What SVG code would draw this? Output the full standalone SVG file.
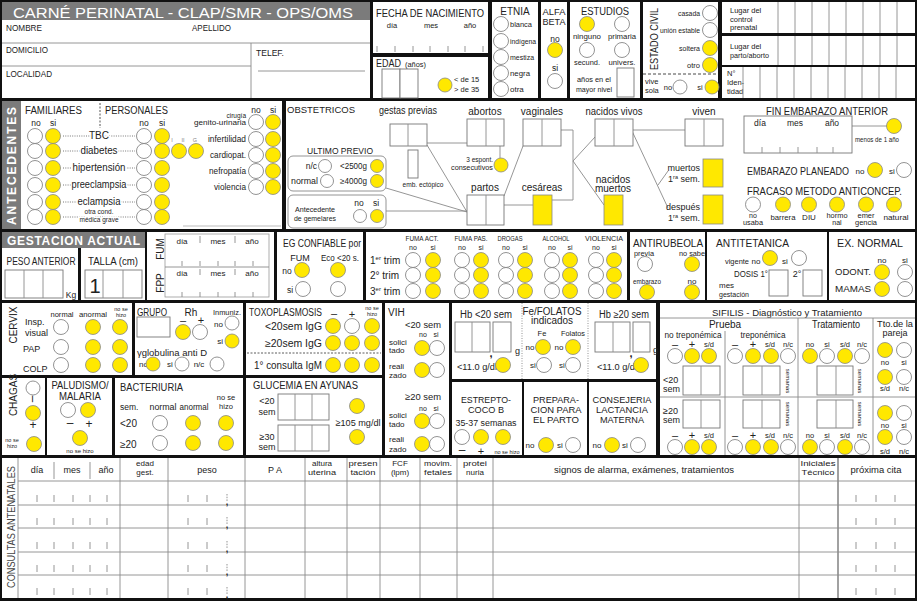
<svg xmlns="http://www.w3.org/2000/svg" width="917" height="601" viewBox="0 0 917 601">
<style>
text{font-family:"Liberation Sans Narrow","Liberation Sans",Arial,sans-serif;font-size:9px;fill:#222}
.c{text-anchor:middle}
.r{text-anchor:end}
.s{font-size:7.5px}
.xs{font-size:5.5px}
.m{font-size:10px}
.h{font-size:10.5px}
.w{fill:#fff;stroke:#777;stroke-width:0.8}
.y{fill:#ffe800;stroke:#888;stroke-width:0.8}
.p{fill:#fff}
.bx{fill:#fff;stroke:#777;stroke-width:0.9}
.yb{fill:#ffe800;stroke:#888;stroke-width:0.8}
.g{stroke:#8a8a8a;stroke-width:0.9;fill:none}
.dot{stroke:#555;stroke-width:0.8;stroke-dasharray:1 1.3;fill:none}
.halo{stroke:#fff;stroke-width:3px;paint-order:stroke}
.wt{fill:#fff;font-family:"Liberation Sans",Arial,sans-serif;font-weight:bold}
</style>
<rect width="917" height="601" fill="#111"/>

<g id="identificacion">
<rect x="2" y="2" width="368" height="96" class="p"/>
<rect x="2" y="2" width="368" height="18" fill="#7b7b7b"/>
<text x="13" y="18" style="fill:#fff;font-family:'Liberation Sans',Arial,sans-serif;font-size:15.5px" textLength="340" lengthAdjust="spacingAndGlyphs">CARNÉ PERINATAL - CLAP/SMR - OPS/OMS</text>
<text x="6" y="31" style="font-size:9.5px" textLength="36" lengthAdjust="spacingAndGlyphs">NOMBRE</text>
<text x="192" y="31" style="font-size:9.5px" textLength="39" lengthAdjust="spacingAndGlyphs">APELLIDO</text>
<line class="g" x1="2" y1="43" x2="370" y2="43"/>
<text x="6" y="53" style="font-size:9.5px" textLength="42" lengthAdjust="spacingAndGlyphs">DOMICILIO</text>
<line class="g" x1="251" y1="43" x2="251" y2="98"/>
<text x="256" y="56" style="font-size:9.5px" textLength="28" lengthAdjust="spacingAndGlyphs">TELEF.</text>
<line class="g" x1="2" y1="66" x2="251" y2="66"/>
<text x="6" y="77" style="font-size:9.5px" textLength="46" lengthAdjust="spacingAndGlyphs">LOCALIDAD</text>
<line class="g" x1="258" y1="71" x2="365" y2="71"/>
</g>

<g id="fecha-nacimiento">
<rect x="373" y="2" width="115" height="51" class="p"/>
<text x="376" y="17" class="h" textLength="108" lengthAdjust="spacingAndGlyphs">FECHA DE NACIMIENTO</text>
<text x="392" y="28" class="c s">día</text>
<text x="431" y="28" class="c s">mes</text>
<text x="470" y="28" class="c s">año</text>
<path class="g" d="M377 46V52M395 46V52M413 46V52M430 46V52M448 46V52M465 46V52M483 46V52"/>
</g>

<g id="edad">
<rect x="373" y="57" width="115" height="41" class="p"/>
<text x="376" y="67" class="m" textLength="25" lengthAdjust="spacingAndGlyphs">EDAD</text>
<text x="405" y="67" style="font-size:8px" textLength="21" lengthAdjust="spacingAndGlyphs">(años)</text>
<rect class="bx" x="382" y="69" width="18" height="29"/>
<rect class="bx" x="400" y="69" width="18" height="29"/>
<circle class="y" cx="445" cy="85" r="7"/>
<text x="454" y="82" class="s">&lt; de 15</text>
<text x="454" y="92" class="s">&gt; de 35</text>
</g>

<g id="etnia">
<rect x="492" y="2" width="46" height="96" class="p"/>
<text x="515" y="15" class="c m">ETNIA</text>
<circle class="w" cx="501" cy="24" r="7.5"/><text x="510" y="27" style="font-size:8px" textLength="22" lengthAdjust="spacingAndGlyphs">blanca</text>
<circle class="w" cx="501" cy="41" r="7.5"/><text x="510" y="44" style="font-size:8px" textLength="26" lengthAdjust="spacingAndGlyphs">indígena</text>
<circle class="w" cx="501" cy="57" r="7.5"/><text x="510" y="60" style="font-size:8px" textLength="24" lengthAdjust="spacingAndGlyphs">mestiza</text>
<circle class="w" cx="501" cy="73" r="7.5"/><text x="510" y="76" style="font-size:8px" textLength="20" lengthAdjust="spacingAndGlyphs">negra</text>
<circle class="w" cx="501" cy="89" r="7.5"/><text x="510" y="92" style="font-size:8px">otra</text>
</g>

<g id="alfabeta">
<rect x="541" y="2" width="26" height="96" class="p"/>
<text x="554" y="15" class="c" style="font-size:9.5px" textLength="23" lengthAdjust="spacingAndGlyphs">ALFA</text>
<text x="554" y="25" class="c" style="font-size:9.5px" textLength="23" lengthAdjust="spacingAndGlyphs">BETA</text>
<text x="555" y="42" class="c" style="font-size:8.5px">no</text>
<circle class="y" cx="555" cy="50" r="7.5"/>
<text x="555" y="71" class="c" style="font-size:8.5px">si</text>
<circle class="w" cx="555" cy="81" r="7.5"/>
</g>

<g id="estudios">
<rect x="570" y="2" width="70" height="96" class="p"/>
<text x="605" y="15" class="c m" textLength="48" lengthAdjust="spacingAndGlyphs">ESTUDIOS</text>
<circle class="y" cx="587" cy="24" r="7.5"/>
<circle class="w" cx="622" cy="24" r="7.5"/>
<text x="587" y="39" class="c" style="font-size:8px" textLength="28" lengthAdjust="spacingAndGlyphs">ninguno</text>
<text x="622" y="39" class="c" style="font-size:8px" textLength="28" lengthAdjust="spacingAndGlyphs">primaria</text>
<circle class="w" cx="587" cy="50" r="7.5"/>
<circle class="w" cx="622" cy="50" r="7.5"/>
<text x="587" y="65" class="c" style="font-size:8px" textLength="26" lengthAdjust="spacingAndGlyphs">secund.</text>
<text x="622" y="65" class="c" style="font-size:8px" textLength="27" lengthAdjust="spacingAndGlyphs">univers.</text>
<text x="594" y="82" class="c" style="font-size:8px" textLength="34" lengthAdjust="spacingAndGlyphs">años en el</text>
<text x="594" y="92" class="c" style="font-size:8px" textLength="36" lengthAdjust="spacingAndGlyphs">mayor nivel</text>
<rect class="bx" x="617" y="68" width="17" height="29"/>
</g>

<g id="estado-civil">
<rect x="643" y="2" width="75" height="96" class="p"/>
<text transform="translate(658,39) rotate(-90)" class="c" style="font-size:11px" textLength="62" lengthAdjust="spacingAndGlyphs">ESTADO CIVIL</text>
<text x="700" y="16" class="r s" textLength="22" lengthAdjust="spacingAndGlyphs">casada</text><circle class="w" cx="710" cy="13" r="7.5"/>
<text x="700" y="33" class="r s" textLength="40" lengthAdjust="spacingAndGlyphs">unión estable</text><circle class="w" cx="710" cy="30" r="7.5"/>
<text x="700" y="51" class="r s" textLength="21" lengthAdjust="spacingAndGlyphs">soltera</text><circle class="y" cx="710" cy="48" r="7.5"/>
<text x="700" y="68" class="r s">otro</text><circle class="y" cx="710" cy="65" r="7.5"/>
<line x1="643" y1="74" x2="718" y2="74" stroke="#333" stroke-width="0.9" stroke-dasharray="3 2"/>
<text x="645" y="84" class="s">vive</text>
<text x="645" y="93" class="s">sola</text>
<text x="668" y="90" class="c s">no</text><circle class="w" cx="680" cy="87" r="7"/>
<text x="700" y="90" class="c s">si</text><circle class="y" cx="712" cy="87" r="7"/>
</g>

<g id="lugar">
<rect x="722" y="2" width="193" height="31" class="p"/>
<rect x="722" y="36" width="193" height="29" class="p"/>
<rect x="722" y="67" width="193" height="31" class="p"/>
<text x="730" y="13" class="s">Lugar del</text>
<text x="730" y="21.5" class="s">control</text>
<text x="730" y="30" class="s">prenatal</text>
<text x="730" y="49" class="s">Lugar del</text>
<text x="730" y="58" class="s" textLength="39" lengthAdjust="spacingAndGlyphs">parto/aborto</text>
<text x="727" y="76" class="s">N°</text>
<text x="727" y="85" class="s">Iden-</text>
<text x="727" y="94" class="s">tidad</text>
<path class="g" d="M778 2V33M795 2V33M812 2V33M829 2V33M846 2V33M863 2V33M880 2V33M897 2V33M778 36V65M795 36V65M812 36V65M829 36V65M846 36V65M863 36V65M880 36V65M897 36V65M743 67V98M760 67V98M777 67V98M794 67V98M811 67V98M828 67V98M845 67V98M862 67V98M879 67V98M896 67V98"/>
</g>

<g id="antecedentes-familiares-personales">
<rect x="2" y="101" width="19" height="128" fill="#7b7b7b"/>
<text transform="translate(15.5,166) rotate(-90)" class="wt c" style="font-size:12px" textLength="118" lengthAdjust="spacing">ANTECEDENTES</text>
<rect x="21" y="101" width="261" height="128" class="p"/>
<text x="25" y="114" class="m" textLength="57" lengthAdjust="spacingAndGlyphs">FAMILIARES</text>
<line x1="100" y1="103" x2="100" y2="128" stroke="#555" stroke-width="1" stroke-dasharray="2 1.5"/>
<text x="105" y="114" class="m" textLength="63" lengthAdjust="spacingAndGlyphs">PERSONALES</text>
<text x="36" y="126" class="c" style="font-size:8.5px">no</text>
<text x="53" y="126" class="c" style="font-size:8.5px">si</text>
<text x="144" y="126" class="c" style="font-size:8.5px">no</text>
<text x="162" y="126" class="c" style="font-size:8.5px">si</text>
<path class="dot" d="M63 136H135M63 151H135M63 168H135M63 185H135M63 202H135M63 217H135"/>
<text x="99" y="139" class="c halo m">TBC</text>
<text x="99" y="154" class="c halo m" textLength="37" lengthAdjust="spacingAndGlyphs">diabetes</text>
<text x="99" y="171" class="c halo m" textLength="53" lengthAdjust="spacingAndGlyphs">hipertensión</text>
<text x="99" y="188" class="c halo m" textLength="55" lengthAdjust="spacingAndGlyphs">preeclampsia</text>
<text x="99" y="205" class="c halo m" textLength="43" lengthAdjust="spacingAndGlyphs">eclampsia</text>
<text x="99" y="214" class="c halo" style="font-size:6.5px">otra cond.</text>
<text x="99" y="222" class="c halo" style="font-size:6.5px">médica grave</text>
<circle class="w" cx="35" cy="136" r="7.5"/><circle class="y" cx="53" cy="136" r="7.5"/>
<circle class="w" cx="35" cy="151" r="7.5"/><circle class="y" cx="53" cy="151" r="7.5"/>
<circle class="w" cx="35" cy="168" r="7.5"/><circle class="y" cx="53" cy="168" r="7.5"/>
<circle class="w" cx="35" cy="185" r="7.5"/><circle class="y" cx="53" cy="185" r="7.5"/>
<circle class="w" cx="35" cy="202" r="7.5"/><circle class="y" cx="53" cy="202" r="7.5"/>
<circle class="w" cx="35" cy="217" r="7.5"/><circle class="y" cx="53" cy="217" r="7.5"/>
<circle class="w" cx="144" cy="136" r="7.5"/><circle class="y" cx="162" cy="136" r="7.5"/>
<circle class="w" cx="144" cy="151" r="7.5"/><circle class="y" cx="162" cy="151" r="7.5"/>
<circle class="w" cx="144" cy="168" r="7.5"/><circle class="y" cx="162" cy="168" r="7.5"/>
<circle class="w" cx="144" cy="185" r="7.5"/><circle class="y" cx="162" cy="185" r="7.5"/>
<circle class="w" cx="144" cy="202" r="7.5"/><circle class="y" cx="162" cy="202" r="7.5"/>
<circle class="w" cx="144" cy="217" r="7.5"/><circle class="y" cx="162" cy="217" r="7.5"/>
<text x="172" y="142" class="c xs" style="fill:#888">I</text>
<text x="183" y="142" class="c xs" style="fill:#888">II</text>
<text x="195" y="142" class="c xs" style="fill:#888">G</text>
<circle class="y" cx="179" cy="151" r="7.5"/><circle class="y" cx="196" cy="151" r="7.5"/>
<text x="256" y="113" class="c" style="font-size:8.5px">no</text>
<text x="273" y="113" class="c" style="font-size:8.5px">si</text>
<text x="246" y="118" class="r" style="font-size:6.5px">cirugía</text>
<text x="246" y="125" class="r" style="font-size:6.5px" textLength="52" lengthAdjust="spacingAndGlyphs">genito-urinaria</text>
<text x="246" y="142" class="r" style="font-size:8.5px" textLength="38" lengthAdjust="spacingAndGlyphs">infertilidad</text>
<text x="246" y="158" class="r" style="font-size:8.5px" textLength="36" lengthAdjust="spacingAndGlyphs">cardiopat.</text>
<text x="246" y="174" class="r" style="font-size:8.5px" textLength="37" lengthAdjust="spacingAndGlyphs">nefropatía</text>
<text x="246" y="190" class="r" style="font-size:8.5px" textLength="32" lengthAdjust="spacingAndGlyphs">violencia</text>
<circle class="w" cx="256" cy="122" r="7.5"/><circle class="y" cx="273" cy="122" r="7.5"/>
<circle class="w" cx="256" cy="139" r="7.5"/><circle class="y" cx="273" cy="139" r="7.5"/>
<circle class="w" cx="256" cy="155" r="7.5"/><circle class="y" cx="273" cy="155" r="7.5"/>
<circle class="w" cx="256" cy="171" r="7.5"/><circle class="y" cx="273" cy="171" r="7.5"/>
<circle class="w" cx="256" cy="187" r="7.5"/><circle class="y" cx="273" cy="187" r="7.5"/>
<line x1="183" y1="226" x2="281" y2="226" stroke="#bbb" stroke-width="1.2"/>
</g>

<g id="obstetricos">
<rect x="286" y="101" width="629" height="128" class="p"/>
<text x="287" y="113" style="font-size:9.5px" textLength="68" lengthAdjust="spacingAndGlyphs">OBSTETRICOS</text>
<g id="connectors" class="g">
<path d="M427 143H467"/>
<path d="M500 146V158"/>
<path d="M427 145L467 212"/>
<path d="M386 188L467 212"/>
<path d="M386 211H467"/>
<path d="M504 205H533"/>
<path d="M504 196L523 146"/>
<path d="M561 130H573V200H552"/>
<path d="M595 137L573 161L604 205"/>
<path d="M633 130H685"/>
<path d="M632 131L668 208"/>
<path d="M658 185L668 171"/>
<path d="M852 126H887"/>
</g>
<text x="408" y="114" class="c m" textLength="58" lengthAdjust="spacingAndGlyphs">gestas previas</text>
<rect class="bx" x="390" y="124" width="37" height="22"/><line class="g" x1="408" y1="124" x2="408" y2="146"/>
<rect class="bx" x="408" y="150" width="10" height="28"/>
<text x="423" y="187" class="c" style="font-size:8px" textLength="41" lengthAdjust="spacingAndGlyphs">emb. ectópico</text>
<text x="485" y="115" class="c m">abortos</text>
<rect class="bx" x="467" y="119" width="37" height="27"/><line class="g" x1="486" y1="119" x2="486" y2="146"/>
<circle class="y" cx="501" cy="165" r="7"/>
<text x="493" y="162" class="r" style="font-size:6.5px">3 espont.</text>
<text x="493" y="170" class="r" style="font-size:6.5px" textLength="42" lengthAdjust="spacingAndGlyphs">consecutivos</text>
<text x="542" y="115" class="c m">vaginales</text>
<rect class="bx" x="523" y="119" width="38" height="27"/><line class="g" x1="542" y1="119" x2="542" y2="146"/>
<text x="485" y="191" class="c m">partos</text>
<rect class="bx" x="467" y="195" width="37" height="30"/><line class="g" x1="486" y1="195" x2="486" y2="225"/>
<text x="542" y="191" class="c m">cesáreas</text>
<rect class="yb" x="533" y="195" width="19" height="30"/>
<text x="614" y="115" class="c m" textLength="57" lengthAdjust="spacingAndGlyphs">nacidos vivos</text>
<rect class="bx" x="595" y="119" width="38" height="27"/><line class="g" x1="614" y1="119" x2="614" y2="146"/>
<text x="704" y="115" class="c m">viven</text>
<rect class="bx" x="685" y="119" width="38" height="27"/><line class="g" x1="704" y1="119" x2="704" y2="146"/>
<text x="613" y="183" class="c m">nacidos</text>
<text x="613" y="192" class="c m">muertos</text>
<rect class="yb" x="604" y="195" width="19" height="30"/>
<text x="700" y="171" class="r">muertos</text>
<text x="700" y="182" class="r">1<tspan style="font-size:5.5px" dy="-3">ra</tspan><tspan dy="3"> sem.</tspan></text>
<rect class="yb" x="703" y="159" width="20" height="28"/>
<text x="700" y="210" class="r">después</text>
<text x="700" y="221" class="r">1<tspan style="font-size:5.5px" dy="-3">ra</tspan><tspan dy="3"> sem.</tspan></text>
<rect class="yb" x="703" y="195" width="20" height="29"/>
<text x="340" y="154" class="c" textLength="66" lengthAdjust="spacingAndGlyphs">ULTIMO PREVIO</text>
<rect x="288" y="156" width="98" height="35" rx="5" fill="#fff" stroke="#888" stroke-width="0.9"/>
<text x="317" y="169" class="r" style="font-size:8.5px">n/c</text><circle class="w" cx="325" cy="166" r="6.5"/>
<text x="367" y="169" class="r" style="font-size:8.5px" textLength="27" lengthAdjust="spacingAndGlyphs">&lt;2500g</text><circle class="y" cx="377" cy="166" r="6.5"/>
<text x="318" y="184" class="r" style="font-size:8.5px" textLength="27" lengthAdjust="spacingAndGlyphs">normal</text><circle class="w" cx="327" cy="181" r="6.5"/>
<text x="367" y="184" class="r" style="font-size:8.5px" textLength="27" lengthAdjust="spacingAndGlyphs">≥4000g</text><circle class="y" cx="377" cy="181" r="6.5"/>
<rect x="288" y="195" width="98" height="33" rx="5" fill="#fff" stroke="#888" stroke-width="0.9"/>
<text x="315" y="212" class="c" style="font-size:7.5px" textLength="40" lengthAdjust="spacingAndGlyphs">Antecedente</text>
<text x="315" y="221" class="c" style="font-size:7.5px" textLength="42" lengthAdjust="spacingAndGlyphs">de gemelares</text>
<text x="359" y="206" class="c" style="font-size:8.5px">no</text>
<text x="376" y="206" class="c" style="font-size:8.5px">si</text>
<circle class="w" cx="360" cy="216" r="6.5"/><circle class="y" cx="377" cy="216" r="6.5"/>
<text x="827" y="115" class="c h" textLength="122" lengthAdjust="spacingAndGlyphs">FIN EMBARAZO ANTERIOR</text>
<rect class="bx" x="744" y="116" width="108" height="37"/>
<text x="760" y="126" class="c" style="font-size:8.5px">día</text>
<text x="795" y="126" class="c" style="font-size:8.5px">mes</text>
<text x="832" y="126" class="c" style="font-size:8.5px">año</text>
<path class="g" d="M762 147V153M780 147V153M798 147V153M817 147V153M833 147V153"/>
<circle class="y" cx="894" cy="126" r="7.5"/>
<text x="877" y="142" class="c" style="font-size:6.5px" textLength="44" lengthAdjust="spacingAndGlyphs">menos de 1 año</text>
<text x="747" y="175" class="m" textLength="102" lengthAdjust="spacingAndGlyphs">EMBARAZO PLANEADO</text>
<text x="860" y="174" class="c" style="font-size:8px">no</text><circle class="y" cx="875" cy="170" r="7.5"/>
<text x="892" y="174" class="c" style="font-size:8px">si</text><circle class="w" cx="904" cy="170" r="7.5"/>
<text x="747" y="194.5" class="h" textLength="155" lengthAdjust="spacingAndGlyphs">FRACASO METODO ANTICONCEP.</text>
<circle class="w" cx="753" cy="204.5" r="7.5"/>
<circle class="y" cx="783" cy="204.5" r="7.5"/>
<circle class="y" cx="809" cy="204.5" r="7.5"/>
<circle class="y" cx="837" cy="204.5" r="7.5"/>
<circle class="y" cx="866" cy="204.5" r="7.5"/>
<circle class="y" cx="894" cy="204.5" r="7.5"/>
<text x="753" y="218" class="c" style="font-size:7px">no</text>
<text x="753" y="225" class="c" style="font-size:7px" textLength="20" lengthAdjust="spacingAndGlyphs">usaba</text>
<text x="783" y="220" class="c" style="font-size:8px" textLength="25" lengthAdjust="spacingAndGlyphs">barrera</text>
<text x="809" y="220" class="c" style="font-size:8px">DIU</text>
<text x="837" y="218" class="c" style="font-size:7px" textLength="21" lengthAdjust="spacingAndGlyphs">hormo</text>
<text x="837" y="225" class="c" style="font-size:7px">nal</text>
<text x="866" y="218" class="c" style="font-size:7px" textLength="17" lengthAdjust="spacingAndGlyphs">emer</text>
<text x="866" y="225" class="c" style="font-size:7px" textLength="22" lengthAdjust="spacingAndGlyphs">gencia</text>
<text x="896" y="220" class="c" style="font-size:8px" textLength="25" lengthAdjust="spacingAndGlyphs">natural</text>
</g>

<g id="gestacion-actual">
<rect x="2" y="232" width="143" height="16" fill="#7b7b7b"/>
<text x="7" y="245" class="wt" style="font-size:12px" textLength="133" lengthAdjust="spacing">GESTACION ACTUAL</text>
<rect x="2" y="248" width="76" height="52" class="p"/>
<text x="41" y="265" class="c m" textLength="69" lengthAdjust="spacingAndGlyphs">PESO ANTERIOR</text>
<rect class="bx" x="5" y="270" width="58" height="28"/>
<path class="g" d="M24 270V298M43 270V298"/>
<text x="71" y="298" class="c" style="font-size:8.5px">Kg</text>
<rect x="81" y="248" width="64" height="52" class="p"/>
<text x="113" y="265" class="c m" textLength="50" lengthAdjust="spacingAndGlyphs">TALLA (cm)</text>
<rect class="bx" x="85" y="270" width="57" height="28"/>
<path class="g" d="M103 270V298M123 270V298"/>
<text x="95" y="293" class="c" style="font-size:20px;font-family:'Liberation Sans',Arial,sans-serif">1</text>
</g>

<g id="fum-fpp">
<rect x="147" y="232" width="127" height="68" class="p"/>
<text transform="translate(164,249) rotate(-90)" class="c m">FUM</text>
<text transform="translate(164,283) rotate(-90)" class="c m">FPP</text>
<rect x="165" y="234" width="104" height="63" fill="none" stroke="#999" stroke-width="0.8"/>
<line class="g" x1="165" y1="267" x2="269" y2="267"/>
<text x="182" y="244" class="c" style="font-size:8px">día</text>
<text x="218" y="244" class="c" style="font-size:8px">mes</text>
<text x="252" y="244" class="c" style="font-size:8px">año</text>
<text x="182" y="276" class="c" style="font-size:8px">día</text>
<text x="218" y="276" class="c" style="font-size:8px">mes</text>
<text x="252" y="276" class="c" style="font-size:8px">año</text>
<path class="g" d="M200 236V243M235 236V243M200 269V275M235 269V275M182 261V266M200 261V266M218 261V266M235 261V266M253 261V266M182 292V297M200 292V297M218 292V297M235 292V297M253 292V297"/>
</g>

<g id="eg-confiable">
<rect x="277" y="232" width="86" height="68" class="p"/>
<text x="283" y="247" class="h" textLength="78" lengthAdjust="spacingAndGlyphs">EG CONFIABLE por</text>
<text x="300" y="261" class="c">FUM</text>
<text x="340" y="261" class="c" textLength="38" lengthAdjust="spacingAndGlyphs">Eco &lt;20 s.</text>
<text x="287" y="274" class="c" style="font-size:8.5px">no</text>
<circle class="y" cx="302" cy="270" r="7.5"/><circle class="y" cx="338" cy="270" r="7.5"/>
<text x="290" y="293" class="c" style="font-size:8.5px">si</text>
<circle class="w" cx="303" cy="289" r="7.5"/><circle class="w" cx="338" cy="289" r="7.5"/>
</g>

<g id="habitos">
<rect x="366" y="232" width="261" height="68" class="p"/>
<text x="422" y="241" class="c" style="font-size:7px" textLength="33" lengthAdjust="spacingAndGlyphs">FUMA ACT.</text>
<text x="471" y="241" class="c" style="font-size:7px" textLength="33" lengthAdjust="spacingAndGlyphs">FUMA PAS.</text>
<text x="510" y="241" class="c" style="font-size:7px" textLength="25" lengthAdjust="spacingAndGlyphs">DROGAS</text>
<text x="556" y="241" class="c" style="font-size:7px" textLength="27" lengthAdjust="spacingAndGlyphs">ALCOHOL</text>
<text x="604" y="241" class="c" style="font-size:7px" textLength="38" lengthAdjust="spacingAndGlyphs">VIOLENCIA</text>
<text x="413" y="249.5" class="c" style="font-size:7px">no</text><text x="433" y="249.5" class="c" style="font-size:7px">si</text>
<text x="462" y="249.5" class="c" style="font-size:7px">no</text><text x="481" y="249.5" class="c" style="font-size:7px">si</text>
<text x="506" y="249.5" class="c" style="font-size:7px">no</text><text x="525" y="249.5" class="c" style="font-size:7px">si</text>
<text x="552" y="249.5" class="c" style="font-size:7px">no</text><text x="570" y="249.5" class="c" style="font-size:7px">si</text>
<text x="596" y="249.5" class="c" style="font-size:7px">no</text><text x="614" y="249.5" class="c" style="font-size:7px">si</text>
<text x="370" y="264" class="m">1<tspan style="font-size:6px" dy="-4">er</tspan><tspan dy="4"> trim</tspan></text>
<text x="370" y="279" class="m">2° trim</text>
<text x="370" y="295" class="m">3<tspan style="font-size:6px" dy="-4">er</tspan><tspan dy="4"> trim</tspan></text>
<circle class="w" cx="413" cy="260" r="7.5"/><circle class="y" cx="433" cy="260" r="7.5"/>
<circle class="w" cx="413" cy="275" r="7.5"/><circle class="y" cx="433" cy="275" r="7.5"/>
<circle class="w" cx="413" cy="291" r="7.5"/><circle class="y" cx="433" cy="291" r="7.5"/>
<circle class="w" cx="462" cy="260" r="7.5"/><circle class="y" cx="481" cy="260" r="7.5"/>
<circle class="w" cx="462" cy="275" r="7.5"/><circle class="y" cx="481" cy="275" r="7.5"/>
<circle class="w" cx="462" cy="291" r="7.5"/><circle class="y" cx="481" cy="291" r="7.5"/>
<circle class="w" cx="506" cy="260" r="7.5"/><circle class="y" cx="525" cy="260" r="7.5"/>
<circle class="w" cx="506" cy="275" r="7.5"/><circle class="y" cx="525" cy="275" r="7.5"/>
<circle class="w" cx="506" cy="291" r="7.5"/><circle class="y" cx="525" cy="291" r="7.5"/>
<circle class="w" cx="552" cy="260" r="7.5"/><circle class="y" cx="570" cy="260" r="7.5"/>
<circle class="w" cx="552" cy="275" r="7.5"/><circle class="y" cx="570" cy="275" r="7.5"/>
<circle class="w" cx="552" cy="291" r="7.5"/><circle class="y" cx="570" cy="291" r="7.5"/>
<circle class="w" cx="596" cy="260" r="7.5"/><circle class="y" cx="614" cy="260" r="7.5"/>
<circle class="w" cx="596" cy="275" r="7.5"/><circle class="y" cx="614" cy="275" r="7.5"/>
<circle class="w" cx="596" cy="291" r="7.5"/><circle class="y" cx="614" cy="291" r="7.5"/>
</g>

<g id="antirubeola">
<rect x="630" y="232" width="75" height="68" class="p"/>
<text x="668" y="247" class="c h" textLength="70" lengthAdjust="spacingAndGlyphs">ANTIRUBEOLA</text>
<text x="644" y="256" class="c" style="font-size:8px" textLength="20" lengthAdjust="spacingAndGlyphs">previa</text>
<text x="692" y="256" class="c" style="font-size:8px" textLength="26" lengthAdjust="spacingAndGlyphs">no sabe</text>
<circle class="w" cx="645" cy="264" r="7.5"/><circle class="y" cx="692" cy="264" r="7.5"/>
<text x="647" y="284" class="c" style="font-size:8px" textLength="28" lengthAdjust="spacingAndGlyphs">embarazo</text>
<text x="692" y="284" class="c" style="font-size:8px">no</text>
<circle class="y" cx="647" cy="292" r="7.5"/><circle class="y" cx="692" cy="292" r="7.5"/>
</g>

<g id="antitetanica">
<rect x="707" y="232" width="120" height="68" class="p"/>
<text x="716" y="247" class="h" textLength="73" lengthAdjust="spacingAndGlyphs">ANTITETANICA</text>
<text x="737" y="264" class="c" style="font-size:8px" textLength="24" lengthAdjust="spacingAndGlyphs">vigente</text>
<text x="756" y="264" class="c" style="font-size:8px">no</text><circle class="y" cx="770" cy="258" r="7.5"/>
<text x="785" y="264" class="c" style="font-size:8px">si</text><circle class="w" cx="799" cy="258" r="7.5"/>
<text x="751" y="277" class="c" textLength="34" lengthAdjust="spacingAndGlyphs">DOSIS 1°</text>
<rect class="bx" x="769" y="270" width="19" height="26"/>
<text x="797" y="277" class="c">2°</text>
<rect class="bx" x="803" y="270" width="19" height="26"/>
<text x="719" y="288" style="font-size:8px">mes</text>
<text x="719" y="297" style="font-size:8px" textLength="30" lengthAdjust="spacingAndGlyphs">gestación</text>
</g>

<g id="ex-normal">
<rect x="829" y="232" width="86" height="68" class="p"/>
<text x="870" y="247" class="c h" textLength="66" lengthAdjust="spacingAndGlyphs">EX. NORMAL</text>
<text x="882" y="263" class="c" style="font-size:8px">no</text>
<text x="905" y="263" class="c" style="font-size:8px">si</text>
<text x="835" y="275" textLength="36" lengthAdjust="spacingAndGlyphs">ODONT.</text>
<circle class="y" cx="882" cy="272" r="7.5"/><circle class="w" cx="905" cy="272" r="7.5"/>
<text x="835" y="292" textLength="36" lengthAdjust="spacingAndGlyphs">MAMAS</text>
<circle class="y" cx="882" cy="289" r="7.5"/><circle class="w" cx="905" cy="289" r="7.5"/>
</g>

<g id="cervix">
<rect x="2" y="303" width="130" height="72" class="p"/>
<text transform="translate(17,325) rotate(-90)" class="c m">CERVIX</text>
<text x="62" y="317" class="c" style="font-size:8px" textLength="23" lengthAdjust="spacingAndGlyphs">normal</text>
<text x="93" y="317" class="c" style="font-size:8px" textLength="28" lengthAdjust="spacingAndGlyphs">anormal</text>
<text x="121" y="310.5" class="c xs">no se</text>
<text x="121" y="317" class="c xs">hizo</text>
<text x="25" y="325">Insp.</text>
<text x="25" y="336">visual</text>
<text x="23" y="352">PAP</text>
<text x="23" y="372">COLP</text>
<circle class="w" cx="61" cy="327" r="7.5"/><circle class="y" cx="93" cy="327" r="7.5"/><circle class="y" cx="120" cy="327" r="7.5"/>
<circle class="w" cx="61" cy="347" r="7.5"/><circle class="y" cx="93" cy="347" r="7.5"/><circle class="y" cx="120" cy="347" r="7.5"/>
<circle class="w" cx="61" cy="365" r="7.5"/><circle class="y" cx="93" cy="365" r="7.5"/><circle class="y" cx="120" cy="365" r="7.5"/>
</g>

<g id="grupo">
<rect x="135" y="303" width="108" height="72" class="p"/>
<text x="137" y="316" class="m" textLength="30" lengthAdjust="spacingAndGlyphs">GRUPO</text>
<rect class="bx" x="137" y="317" width="33" height="20"/>
<text x="191" y="316" class="c m">Rh</text>
<text x="183" y="324" class="c" style="font-size:11px">–</text>
<text x="201" y="324" class="c" style="font-size:11px">+</text>
<circle class="y" cx="183" cy="332" r="7.5"/><circle class="w" cx="200" cy="332" r="7.5"/>
<text x="227" y="315" class="c" style="font-size:8px" textLength="28" lengthAdjust="spacingAndGlyphs">Inmuniz.</text>
<text x="223" y="327" class="r" style="font-size:8px">no</text><circle class="w" cx="232" cy="323" r="7"/>
<text x="223" y="344" class="r" style="font-size:8px">si</text><circle class="y" cx="232" cy="341" r="7"/>
<text x="137" y="356" textLength="70" lengthAdjust="spacingAndGlyphs">γglobulina anti D</text>
<text x="139" y="367" style="font-size:8px">no</text><circle class="y" cx="153" cy="364" r="7"/>
<text x="170" y="367" class="c" style="font-size:8px">si</text><circle class="w" cx="182" cy="364" r="7"/>
<text x="199" y="367" class="c" style="font-size:8px">n/c</text><circle class="w" cx="217" cy="364" r="7"/>
</g>

<g id="toxoplasmosis">
<rect x="246" y="303" width="136" height="72" class="p"/>
<text x="249" y="316" class="m" textLength="73" lengthAdjust="spacingAndGlyphs">TOXOPLASMOSIS</text>
<text x="334" y="317" class="c" style="font-size:11px">–</text>
<text x="352" y="318" class="c" style="font-size:11px">+</text>
<text x="372" y="309.5" class="c xs">no se</text>
<text x="372" y="316" class="c xs">hizo</text>
<text x="322" y="330" class="r m" textLength="57" lengthAdjust="spacingAndGlyphs">&lt;20sem IgG</text>
<circle class="y" cx="333" cy="326" r="7.5"/><circle class="w" cx="352" cy="326" r="7.5"/><circle class="y" cx="372" cy="326" r="7.5"/>
<text x="322" y="347" class="r m" textLength="57" lengthAdjust="spacingAndGlyphs">≥20sem IgG</text>
<circle class="y" cx="333" cy="343" r="7.5"/><circle class="y" cx="352" cy="343" r="7.5"/><circle class="y" cx="372" cy="343" r="7.5"/>
<line x1="247" y1="353" x2="381" y2="353" stroke="#333" stroke-width="0.8" stroke-dasharray="2 1.5"/>
<text x="322" y="369" class="r m" textLength="68" lengthAdjust="spacingAndGlyphs">1° consulta IgM</text>
<circle class="y" cx="333" cy="365" r="7.5"/><circle class="y" cx="352" cy="365" r="7.5"/><circle class="y" cx="372" cy="365" r="7.5"/>
</g>

<g id="vih">
<rect x="385" y="303" width="64" height="152" class="p"/>
<text x="388" y="316" class="m">VIH</text>
<text x="423" y="328" class="c" style="font-size:9.5px" textLength="36" lengthAdjust="spacingAndGlyphs">&lt;20 sem</text>
<text x="423" y="337" class="c" style="font-size:7px">no</text><text x="436" y="337" class="c" style="font-size:7px">si</text>
<text x="389" y="345" style="font-size:8px">solici</text><text x="389" y="353" style="font-size:8px">tado</text>
<circle class="y" cx="422" cy="348" r="7.5"/><circle class="w" cx="437" cy="348" r="7.5"/>
<text x="389" y="369" style="font-size:8px">reali</text><text x="389" y="378" style="font-size:8px">zado</text>
<circle class="y" cx="422" cy="370" r="7.5"/><circle class="w" cx="437" cy="370" r="7.5"/>
<text x="423" y="400" class="c" style="font-size:9.5px" textLength="36" lengthAdjust="spacingAndGlyphs">≥20 sem</text>
<text x="423" y="411" class="c" style="font-size:7px">no</text><text x="436" y="411" class="c" style="font-size:7px">si</text>
<text x="389" y="418" style="font-size:8px">solici</text><text x="389" y="427" style="font-size:8px">tado</text>
<circle class="y" cx="422" cy="421" r="7.5"/><circle class="w" cx="437" cy="421" r="7.5"/>
<text x="389" y="442" style="font-size:8px">reali</text><text x="389" y="452" style="font-size:8px">zado</text>
<circle class="y" cx="422" cy="444" r="7.5"/><circle class="w" cx="437" cy="444" r="7.5"/>
</g>

<g id="hemoglobina-folatos">
<rect x="452" y="303" width="204" height="76" class="p"/>
<text x="486" y="318" class="c m" textLength="52" lengthAdjust="spacingAndGlyphs">Hb &lt;20 sem</text>
<rect class="bx" x="455" y="322" width="35" height="30"/><line class="g" x1="472" y1="322" x2="472" y2="352"/>
<rect class="bx" x="493" y="322" width="18" height="30"/>
<text x="491" y="357" class="c" style="font-size:11px;font-weight:bold">,</text>
<text x="515" y="354">g</text>
<text x="457" y="370" style="font-size:8.5px" textLength="40" lengthAdjust="spacingAndGlyphs">&lt;11.0 g/dl</text>
<circle class="y" cx="503" cy="365" r="7.5"/>
<line x1="522" y1="303" x2="522" y2="379" stroke="#777" stroke-width="0.8" stroke-dasharray="1 1.5"/>
<text x="552" y="315" class="c m" textLength="59" lengthAdjust="spacingAndGlyphs">Fe/FOLATOS</text>
<text x="552" y="324" class="c m" textLength="42" lengthAdjust="spacingAndGlyphs">indicados</text>
<text x="542" y="336" class="c s">Fe</text>
<text x="573" y="336" class="c s" textLength="24" lengthAdjust="spacingAndGlyphs">Folatos</text>
<text x="530" y="350" class="c" style="font-size:8px">no</text><circle class="y" cx="543" cy="347" r="7.5"/>
<text x="559" y="350" class="c" style="font-size:8px">no</text><circle class="y" cx="573" cy="347" r="7.5"/>
<text x="533" y="368" class="c" style="font-size:8px">si</text><circle class="w" cx="544" cy="365" r="7.5"/>
<text x="562" y="368" class="c" style="font-size:8px">si</text><circle class="w" cx="573" cy="365" r="7.5"/>
<line x1="588" y1="303" x2="588" y2="379" stroke="#777" stroke-width="0.8" stroke-dasharray="1 1.5"/>
<text x="624" y="318" class="c m" textLength="50" lengthAdjust="spacingAndGlyphs">Hb ≥20 sem</text>
<rect class="bx" x="595" y="322" width="35" height="30"/><line class="g" x1="613" y1="322" x2="613" y2="352"/>
<rect class="bx" x="633" y="322" width="17" height="30"/>
<text x="631" y="357" class="c" style="font-size:11px;font-weight:bold">,</text>
<text x="653" y="353">g</text>
<text x="597" y="370" style="font-size:8.5px" textLength="40" lengthAdjust="spacingAndGlyphs">&lt;11.0 g/dl</text>
<circle class="y" cx="641" cy="365" r="7.5"/>
</g>

<g id="chagas">
<rect x="2" y="378" width="43" height="77" class="p"/>
<text transform="translate(17,395) rotate(-90)" class="c m">CHAGAS</text>
<circle class="w" cx="33" cy="388" r="7"/>
<text transform="translate(36,399) rotate(-90)" class="c" style="font-size:12px">–</text>
<circle class="y" cx="33" cy="413" r="7.5"/>
<text x="33" y="429" class="c" style="font-size:12px">+</text>
<text x="12" y="441.5" class="c xs">no se</text>
<text x="12" y="448" class="c xs">hizo</text>
<circle class="y" cx="34" cy="444" r="7.5"/>
</g>

<g id="paludismo">
<rect x="47" y="378" width="65" height="77" class="p"/>
<text x="80" y="389" class="c m" textLength="57" lengthAdjust="spacingAndGlyphs">PALUDISMO/</text>
<text x="80" y="400" class="c m" textLength="42" lengthAdjust="spacingAndGlyphs">MALARIA</text>
<circle class="w" cx="68" cy="410" r="7.5"/><circle class="y" cx="88" cy="410" r="7.5"/>
<text x="70" y="427" class="c" style="font-size:12px">–</text>
<text x="89" y="428" class="c" style="font-size:12px">+</text>
<circle class="y" cx="80" cy="438" r="7.5"/>
<text x="80" y="453" class="c" style="font-size:6px">no se hizo</text>
</g>

<g id="bacteriuria">
<rect x="115" y="378" width="128" height="77" class="p"/>
<text x="120" y="391" class="m" textLength="63" lengthAdjust="spacingAndGlyphs">BACTERIURIA</text>
<text x="120" y="410" style="font-size:8.5px">sem.</text>
<text x="163" y="410" class="c" style="font-size:8.5px" textLength="27" lengthAdjust="spacingAndGlyphs">normal</text>
<text x="194" y="410" class="c" style="font-size:8.5px" textLength="29" lengthAdjust="spacingAndGlyphs">anormal</text>
<text x="226" y="399.5" class="c" style="font-size:7.5px">no se</text>
<text x="226" y="409" class="c" style="font-size:7.5px">hizo</text>
<text x="120" y="427" class="m">&lt;20</text>
<text x="120" y="448" class="m">≥20</text>
<circle class="w" cx="160" cy="423" r="7.5"/><circle class="y" cx="193" cy="423" r="7.5"/><circle class="y" cx="226" cy="423" r="7.5"/>
<circle class="w" cx="160" cy="443" r="7.5"/><circle class="y" cx="193" cy="443" r="7.5"/><circle class="y" cx="226" cy="443" r="7.5"/>
</g>

<g id="glucemia">
<rect x="246" y="378" width="136" height="77" class="p"/>
<text x="253" y="389" class="m" textLength="105" lengthAdjust="spacingAndGlyphs">GLUCEMIA EN AYUNAS</text>
<text x="267" y="404" class="c">&lt;20</text>
<text x="267" y="415" class="c">sem</text>
<rect class="bx" x="278" y="394" width="51" height="26"/>
<path class="g" d="M295 394V420M312 394V420"/>
<text x="267" y="440" class="c">≥30</text>
<text x="267" y="450" class="c">sem</text>
<rect class="bx" x="278" y="425" width="51" height="26"/>
<path class="g" d="M295 425V451M312 425V451"/>
<circle class="y" cx="357" cy="406" r="7.5"/>
<text x="358" y="426" class="c" style="font-size:9.5px" textLength="45" lengthAdjust="spacingAndGlyphs">≥105 mg/dl</text>
<circle class="y" cx="357" cy="437" r="7.5"/>
</g>

<g id="estreptococo">
<rect x="452" y="382" width="70" height="73" class="p"/>
<text x="486" y="403" class="c" style="font-size:9.5px" textLength="50" lengthAdjust="spacingAndGlyphs">ESTREPTO-</text>
<text x="486" y="413" class="c" style="font-size:9.5px" textLength="36" lengthAdjust="spacingAndGlyphs">COCO  B</text>
<text x="486" y="426" class="c" style="font-size:8.5px" textLength="61" lengthAdjust="spacingAndGlyphs">35-37 semanas</text>
<circle class="w" cx="462" cy="437" r="7.5"/><circle class="y" cx="481" cy="437" r="7.5"/><circle class="y" cx="503" cy="437" r="7.5"/>
<text x="462" y="454" class="c" style="font-size:12px">–</text>
<text x="481" y="455" class="c" style="font-size:11px">+</text>
<text x="507" y="454" class="c xs">no se hizo</text>
</g>

<g id="preparacion-parto">
<rect x="524" y="382" width="63" height="73" class="p"/>
<text x="556" y="403" class="c" style="font-size:9.5px" textLength="46" lengthAdjust="spacingAndGlyphs">PREPARA-</text>
<text x="556" y="413" class="c" style="font-size:9.5px" textLength="51" lengthAdjust="spacingAndGlyphs">CION PARA</text>
<text x="556" y="423" class="c" style="font-size:9.5px" textLength="46" lengthAdjust="spacingAndGlyphs">EL PARTO</text>
<text x="530" y="448" class="c" style="font-size:8px">no</text><circle class="y" cx="546" cy="445" r="7.5"/>
<text x="560" y="448" class="c" style="font-size:8px">si</text><circle class="w" cx="573" cy="445" r="7.5"/>
</g>

<g id="consejeria-lactancia">
<rect x="589" y="382" width="67" height="73" class="p"/>
<text x="622" y="403" class="c" style="font-size:9.5px" textLength="59" lengthAdjust="spacingAndGlyphs">CONSEJERIA</text>
<text x="622" y="413" class="c" style="font-size:9.5px" textLength="52" lengthAdjust="spacingAndGlyphs">LACTANCIA</text>
<text x="622" y="423" class="c" style="font-size:9.5px" textLength="44" lengthAdjust="spacingAndGlyphs">MATERNA</text>
<text x="597" y="448" class="c" style="font-size:8px">no</text><circle class="y" cx="612" cy="445" r="7.5"/>
<text x="625" y="448" class="c" style="font-size:8px">si</text><circle class="w" cx="638" cy="445" r="7.5"/>
</g>

<g id="sifilis">
<rect x="660" y="303" width="255" height="152" class="p"/>
<text x="787" y="316" class="c" style="font-size:9.5px" textLength="150" lengthAdjust="spacingAndGlyphs">SIFILIS - Diagnóstico y Tratamiento</text>
<path class="g" d="M660 318H915M798 318V455M873 318V455M725 331V455M660 397H915"/>
<text x="725" y="328" class="c m">Prueba</text>
<text x="836" y="328" class="c m" textLength="48" lengthAdjust="spacingAndGlyphs">Tratamiento</text>
<text x="895" y="327" class="c" textLength="36" lengthAdjust="spacingAndGlyphs">Tto.de la</text>
<text x="895" y="336" class="c">pareja</text>
<text x="693" y="338" class="c" style="font-size:8.5px" textLength="57" lengthAdjust="spacingAndGlyphs">no treponémica</text>
<text x="763" y="338" class="c" style="font-size:8.5px" textLength="45" lengthAdjust="spacingAndGlyphs">treponémica</text>
<text x="675" y="348" class="c" style="font-size:11px">–</text><text x="692" y="348" class="c" style="font-size:11px">+</text><text x="709" y="347" class="c s">s/d</text>
<text x="735" y="348" class="c" style="font-size:11px">–</text><text x="753" y="348" class="c" style="font-size:11px">+</text><text x="770" y="347" class="c s">s/d</text><text x="788" y="347" class="c s">n/c</text>
<text x="810" y="347" class="c s">no</text><text x="827" y="347" class="c s">si</text><text x="845" y="347" class="c s">s/d</text><text x="862" y="347" class="c s">n/c</text>
<circle class="w" cx="675" cy="356" r="7.5"/><circle class="y" cx="692" cy="356" r="7.5"/><circle class="y" cx="709" cy="356" r="7.5"/>
<circle class="w" cx="735" cy="356" r="7.5"/><circle class="y" cx="753" cy="356" r="7.5"/><circle class="y" cx="771" cy="356" r="7.5"/><circle class="w" cx="788" cy="356" r="7.5"/>
<circle class="y" cx="810" cy="356" r="7.5"/><circle class="w" cx="827" cy="356" r="7.5"/><circle class="y" cx="845" cy="356" r="7.5"/><circle class="w" cx="862" cy="356" r="7.5"/>
<circle class="y" cx="885" cy="350" r="7.5"/><circle class="w" cx="904" cy="350" r="7.5"/>
<text x="885" y="365" class="c s">no</text><text x="904" y="365" class="c s">si</text>
<circle class="y" cx="885" cy="377" r="7.5"/><circle class="w" cx="904" cy="377" r="7.5"/>
<text x="885" y="391" class="c s">s/d</text><text x="904" y="391" class="c s">n/c</text>
<text x="663" y="383">&lt;20</text>
<text x="663" y="391.5">sem</text>
<rect class="bx" x="683" y="366" width="37" height="29"/><line class="g" x1="701" y1="366" x2="701" y2="395"/>
<rect class="bx" x="743" y="366" width="37" height="29"/><line class="g" x1="762" y1="366" x2="762" y2="395"/>
<text transform="translate(786,381) rotate(90)" class="c" style="font-size:6px">semanas</text>
<rect class="bx" x="817" y="366" width="36" height="29"/><line class="g" x1="836" y1="366" x2="836" y2="395"/>
<text transform="translate(858,381) rotate(90)" class="c" style="font-size:6px">semanas</text>
<text x="663" y="414">≥20</text>
<text x="663" y="423">sem</text>
<rect class="bx" x="683" y="400" width="37" height="28"/><line class="g" x1="701" y1="400" x2="701" y2="428"/>
<rect class="bx" x="743" y="400" width="37" height="28"/><line class="g" x1="762" y1="400" x2="762" y2="428"/>
<text transform="translate(786,414) rotate(90)" class="c" style="font-size:6px">semanas</text>
<rect class="bx" x="817" y="400" width="36" height="28"/><line class="g" x1="836" y1="400" x2="836" y2="428"/>
<text transform="translate(858,414) rotate(90)" class="c" style="font-size:6px">semanas</text>
<circle class="y" cx="885" cy="413" r="7.5"/><circle class="w" cx="904" cy="413" r="7.5"/>
<text x="885" y="428" class="c s">no</text><text x="904" y="428" class="c s">si</text>
<circle class="y" cx="885" cy="437" r="7.5"/><circle class="w" cx="904" cy="437" r="7.5"/>
<text x="885" y="454" class="c s">s/d</text><text x="904" y="454" class="c s">n/c</text>
<text x="675" y="439" class="c" style="font-size:11px">–</text><text x="692" y="439" class="c" style="font-size:11px">+</text><text x="709" y="438" class="c s">s/d</text>
<text x="735" y="439" class="c" style="font-size:11px">–</text><text x="753" y="439" class="c" style="font-size:11px">+</text><text x="770" y="438" class="c s">s/d</text><text x="788" y="438" class="c s">n/c</text>
<text x="810" y="438" class="c s">no</text><text x="827" y="438" class="c s">si</text><text x="845" y="438" class="c s">s/d</text><text x="862" y="438" class="c s">n/c</text>
<circle class="w" cx="675" cy="447" r="7.5"/><circle class="y" cx="692" cy="447" r="7.5"/><circle class="y" cx="709" cy="447" r="7.5"/>
<circle class="w" cx="735" cy="447" r="7.5"/><circle class="y" cx="753" cy="447" r="7.5"/><circle class="y" cx="771" cy="447" r="7.5"/><circle class="w" cx="788" cy="447" r="7.5"/>
<circle class="y" cx="810" cy="447" r="7.5"/><circle class="w" cx="827" cy="447" r="7.5"/><circle class="y" cx="845" cy="447" r="7.5"/><circle class="w" cx="862" cy="447" r="7.5"/>
</g>

<g id="consultas-antenatales">
<rect x="2" y="458" width="913" height="140" class="p"/>
<text transform="translate(15,527) rotate(-90)" class="c m" style="fill:#444" textLength="122" lengthAdjust="spacingAndGlyphs">CONSULTAS ANTENATALES</text>
<path class="g" d="M18 458V598M18 481H915M18 505H915M18 528H915M18 552H915M18 575H915M120 458V598M168 458V598M245 458V598M305 458V598M347 458V598M380 458V598M420 458V598M457 458V598M493 458V598M799 458V598M54 462V479M90 462V479"/>
<line x1="838" y1="458" x2="838" y2="598" stroke="#8a8a8a" stroke-width="1.6"/>
<text x="37" y="473" class="c">día</text>
<text x="72" y="473" class="c">mes</text>
<text x="106" y="473" class="c">año</text>
<text x="145" y="466" class="c" style="font-size:8px">edad</text><text x="145" y="475" class="c" style="font-size:8px">gest.</text>
<text x="207" y="473" class="c">peso</text>
<text x="275" y="473" class="c">P A</text>
<text x="322" y="466" class="c" style="font-size:8px">altura</text><text x="322" y="475" class="c" style="font-size:8px" textLength="28" lengthAdjust="spacingAndGlyphs">uterina</text>
<text x="363" y="466" class="c" style="font-size:8px" textLength="29" lengthAdjust="spacingAndGlyphs">presen</text><text x="363" y="475" class="c" style="font-size:8px" textLength="25" lengthAdjust="spacingAndGlyphs">tación</text>
<text x="400" y="466" class="c" style="font-size:8px">FCF</text><text x="400" y="475" class="c" style="font-size:8px">(lpm)</text>
<text x="438" y="466" class="c" style="font-size:8px" textLength="28" lengthAdjust="spacingAndGlyphs">movim.</text><text x="438" y="475" class="c" style="font-size:8px" textLength="28" lengthAdjust="spacingAndGlyphs">fetales</text>
<text x="475" y="466" class="c" style="font-size:8px" textLength="24" lengthAdjust="spacingAndGlyphs">protei</text><text x="475" y="475" class="c" style="font-size:8px">nuria</text>
<text x="644" y="473" class="c" textLength="180" lengthAdjust="spacingAndGlyphs">signos de alarma, exámenes, tratamientos</text>
<text x="818" y="466" class="c" style="font-size:8px" textLength="35" lengthAdjust="spacingAndGlyphs">Iniciales</text><text x="818" y="475" class="c" style="font-size:8px" textLength="33" lengthAdjust="spacingAndGlyphs">Técnico</text>
<text x="876" y="473" class="c" textLength="51" lengthAdjust="spacingAndGlyphs">próxima cita</text>
<path class="g" d="M37 495V502M54 495V502M73 495V502M90 495V502M107 495V502M188 495V502M207 495V502M856 495V502M876 495V502M895 495V502
M37 518V525M54 518V525M73 518V525M90 518V525M107 518V525M188 518V525M207 518V525M856 518V525M876 518V525M895 518V525
M37 542V549M54 542V549M73 542V549M90 542V549M107 542V549M188 542V549M207 542V549M856 542V549M876 542V549M895 542V549
M37 565V572M54 565V572M73 565V572M90 565V572M107 565V572M188 565V572M207 565V572M856 565V572M876 565V572M895 565V572
M37 588V595M54 588V595M73 588V595M90 588V595M107 588V595M188 588V595M207 588V595M856 588V595M876 588V595M895 588V595"/>
<path d="M227 494V501M227 517V524M227 541V548M227 564V571M227 587V594" stroke="#777" stroke-width="0.8" stroke-dasharray="1.5 1.2"/>
<text x="227" y="505" class="c" style="font-size:9px;font-weight:bold">,</text>
<text x="227" y="528" class="c" style="font-size:9px;font-weight:bold">,</text>
<text x="227" y="552" class="c" style="font-size:9px;font-weight:bold">,</text>
<text x="227" y="575" class="c" style="font-size:9px;font-weight:bold">,</text>
<text x="227" y="598" class="c" style="font-size:9px;font-weight:bold">,</text>
</g>
</svg>
